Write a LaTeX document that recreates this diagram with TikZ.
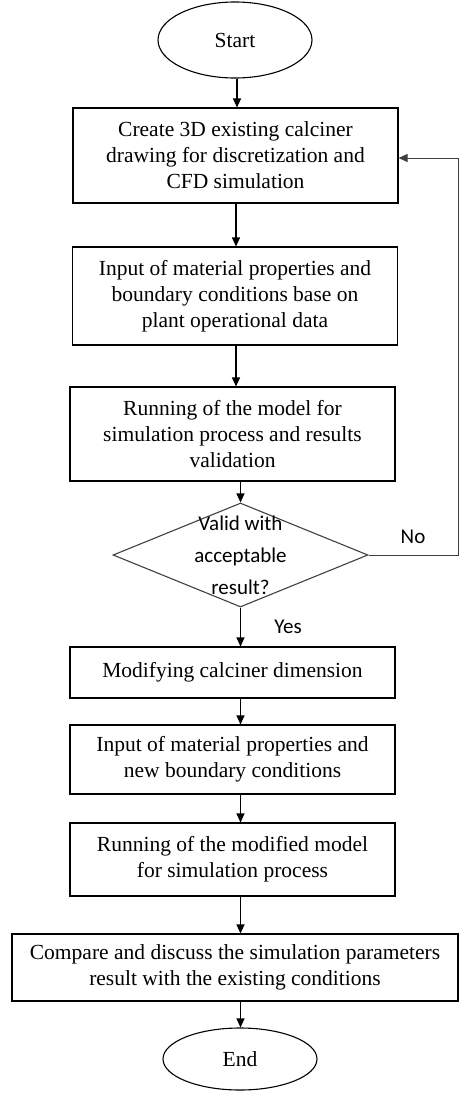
\documentclass[tikz,border=0pt]{standalone}
\usepackage{fontspec}
\setmainfont{Liberation Serif}
\newfontfamily\calibri{Carlito}
\usetikzlibrary{arrows.meta,shapes.geometric}

\begin{document}
\begin{tikzpicture}[x=1pt,y=-1pt,->,>={Triangle[length=9pt,width=8pt]},line width=1.1pt,font=\fontsize{21.5}{26}\selectfont]
    \tikzstyle{terminal}=[ellipse,draw,minimum width=154pt,inner sep=0pt]
    \tikzstyle{process}=[rectangle,draw,minimum width=325pt,align=center,inner sep=0pt]
    \tikzstyle{decision}=[diamond,draw=black!75,minimum width=255pt,minimum height=104pt,inner sep=0pt]
    \tikzstyle{answer}=[font=\calibri\fontsize{21}{32}\selectfont,align=center]
    \useasboundingbox (0,0) rectangle (459,1093);

    \node[terminal,minimum height=76pt] (start) at (235,40) {Start};
    \node[process,minimum height=95pt] (draw3d) at (235.5,155.5) {Create 3D existing calciner\\drawing for discretization and\\CFD simulation};
    \node[process,minimum height=98pt] (input) at (235,296) {Input of material properties and\\boundary conditions base on\\plant operational data};
    \node[process,minimum height=94pt] (run) at (232.5,434) {Running of the model for\\simulation process and results\\validation};
    \node[decision] (valid) at (240.5,555) {};
    \node[answer] (validtxt) at (valid) {Valid with\\acceptable\\result?};
    \node[process,minimum height=51pt] (modify) at (232.5,672.5) {Modifying calciner dimension};
    \node[process,minimum height=69pt] (newinput) at (232.5,759.5) {Input of material properties and\\new boundary conditions};
    \node[process,minimum height=73pt] (rerun) at (232.5,859.5) {Running of the modified model\\for simulation process};
    \node[process,minimum width=446pt,minimum height=67pt] (compare) at (235,967.5) {Compare and discuss the simulation parameters\\result with the existing conditions};
    \node[terminal,minimum height=62pt] (end) at (240,1059) {End};
    \node[answer] (no) at (413,537) {No};
    \node[answer] (yes) at (288,627) {Yes};
    \coordinate (back) at (458,158);

    \draw (start.south -| 237,0) -- (draw3d.north -| 237,0);
    \draw (draw3d.south -| 236,0) -- (input.north -| 236,0);
    \draw (input.south -| 236,0) -- (run.north -| 236,0);
    \draw (run.south -| valid) -- (valid.north);
    \draw (valid.south) -- (modify.north -| valid);
    \draw (modify.south -| valid) -- (newinput.north -| valid);
    \draw (newinput.south -| valid) -- (rerun.north -| valid);
    \draw (rerun.south -| valid) -- (compare.north -| valid);
    \draw (compare.south -| valid) -- (end.north -| valid);
    \draw[draw=black!75,line width=0.9pt] (valid.east) -| (back) -- (back -| draw3d.east);
\end{tikzpicture}
\end{document}
